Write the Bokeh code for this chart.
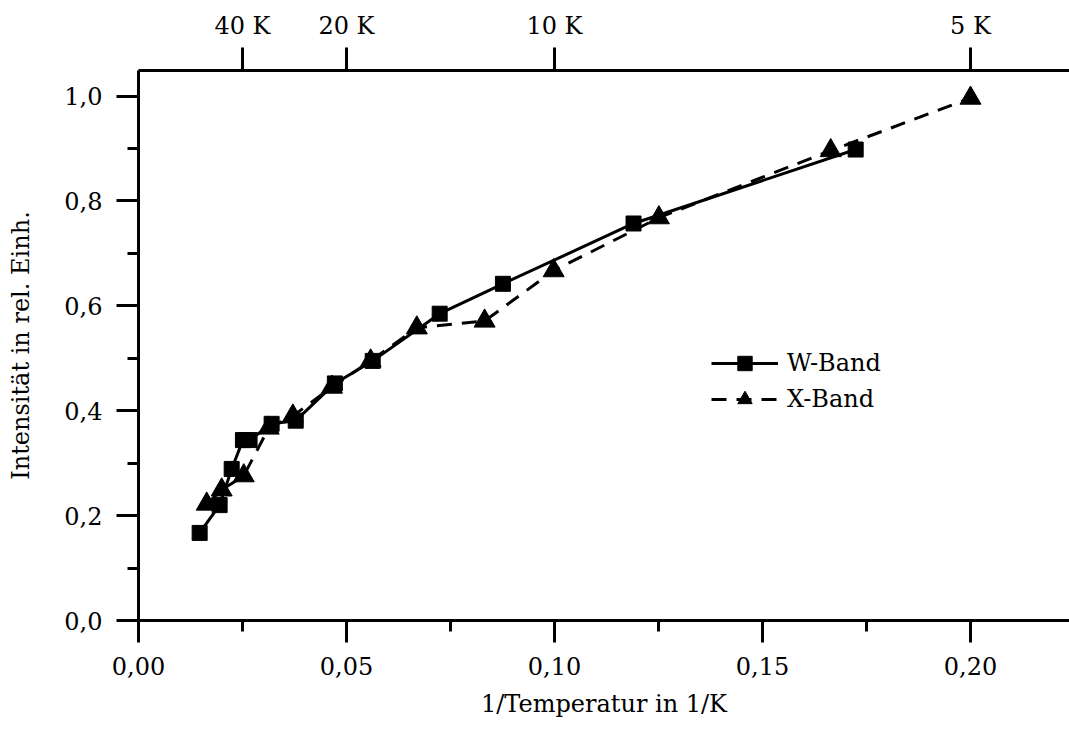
from bokeh.plotting import figure
from bokeh.models import (LinearAxis, FixedTicker, Range1d, Legend, LegendItem,
                          CustomJSTickFormatter, ColumnDataSource)
from bokeh.embed import file_html
from bokeh.resources import INLINE

# ---- data ----
w_x = [0.0147, 0.0195, 0.0224, 0.0251, 0.0267, 0.0320, 0.0378, 0.0472, 0.0563, 0.0724, 0.0876, 0.1190, 0.1724]
w_y = [0.167, 0.220, 0.289, 0.344, 0.344, 0.375, 0.381, 0.452, 0.495, 0.585, 0.642, 0.757, 0.898]

x_x = [0.0164, 0.0200, 0.0253, 0.0313, 0.0371, 0.0465, 0.0558, 0.0669, 0.0832, 0.0998, 0.1251, 0.1664, 0.2000]
x_y = [0.222, 0.249, 0.276, 0.367, 0.390, 0.445, 0.495, 0.558, 0.571, 0.667, 0.768, 0.896, 0.996]

x_major = [0.0, 0.05, 0.10, 0.15, 0.20]
x_minor = [0.025, 0.075, 0.125, 0.175]
y_major = [0.0, 0.2, 0.4, 0.6, 0.8, 1.0]
y_minor = [0.1, 0.3, 0.5, 0.7, 0.9]
top_ticks = [0.025, 0.05, 0.10, 0.20]
top_labels = ["40 K", "20 K", "10 K", "5 K"]

FONT = "DejaVu Serif"

p = figure(width=1069, height=722,
           x_range=Range1d(0, 0.2238), y_range=Range1d(0, 1.0487),
           output_backend="svg", toolbar_location=None,
           min_border_left=138, min_border_right=0,
           min_border_top=70, min_border_bottom=102)
p.outline_line_color = None
p.grid.visible = False
p.background_fill_color = "white"
p.border_fill_color = "white"

def style_axis(ax, tick_font="24px"):
    ax.axis_line_width = 3
    ax.axis_line_color = "black"
    ax.major_tick_line_width = 3
    ax.minor_tick_line_width = 3
    ax.major_tick_line_color = "black"
    ax.minor_tick_line_color = "black"
    ax.major_tick_in = 0
    ax.minor_tick_in = 0
    ax.major_tick_out = 22
    ax.minor_tick_out = 11
    ax.major_label_text_font = FONT
    ax.major_label_text_font_size = tick_font
    ax.major_label_text_color = "black"
    ax.axis_label_text_font = FONT
    ax.axis_label_text_font_size = "24px"
    ax.axis_label_text_font_style = "normal"
    ax.axis_label_text_color = "black"

# bottom axis
xa = p.xaxis[0]
style_axis(xa)
xa.ticker = FixedTicker(ticks=x_major, minor_ticks=x_minor)
xa.formatter = CustomJSTickFormatter(code="return tick.toFixed(2).replace('.', ',');")
xa.axis_label = "1/Temperatur in 1/K"
xa.major_label_standoff = 14
xa.axis_label_standoff = 12

# left axis
ya = p.yaxis[0]
style_axis(ya)
ya.ticker = FixedTicker(ticks=y_major, minor_ticks=y_minor)
ya.formatter = CustomJSTickFormatter(code="return tick.toFixed(1).replace('.', ',');")
ya.axis_label = "Intensität in rel. Einh."
ya.major_label_standoff = 14
ya.axis_label_standoff = 26

# top axis (temperature)
top = LinearAxis(ticker=FixedTicker(ticks=top_ticks, minor_ticks=[]),
                 major_label_overrides={t: l for t, l in zip(top_ticks, top_labels)})
style_axis(top)
top.major_tick_out = 23
top.major_label_standoff = 8
p.add_layout(top, "above")

src_w = ColumnDataSource(dict(x=w_x, y=w_y))
src_x = ColumnDataSource(dict(x=x_x, y=x_y))

xl = p.line("x", "y", source=src_x, line_color="black", line_width=3, line_dash="15 10")
xs = p.scatter("x", "y", source=src_x, marker="triangle", size=21,
               fill_color="black", line_color="black")
wl = p.line("x", "y", source=src_w, line_color="black", line_width=3)
ws = p.scatter("x", "y", source=src_w, marker="square", size=15,
               fill_color="black", line_color="black")

legend = Legend(items=[LegendItem(label="W-Band", renderers=[wl, ws]),
                       LegendItem(label="X-Band", renderers=[xl, xs])],
                location=(573, 203), glyph_width=67, glyph_height=36,
                label_height=36, spacing=0, padding=0, margin=0,
                label_standoff=9, border_line_color=None,
                background_fill_alpha=0,
                label_text_font=FONT, label_text_font_size="24px",
                label_text_color="black")
p.add_layout(legend)

open("out.html", "w").write(file_html(p, INLINE))
